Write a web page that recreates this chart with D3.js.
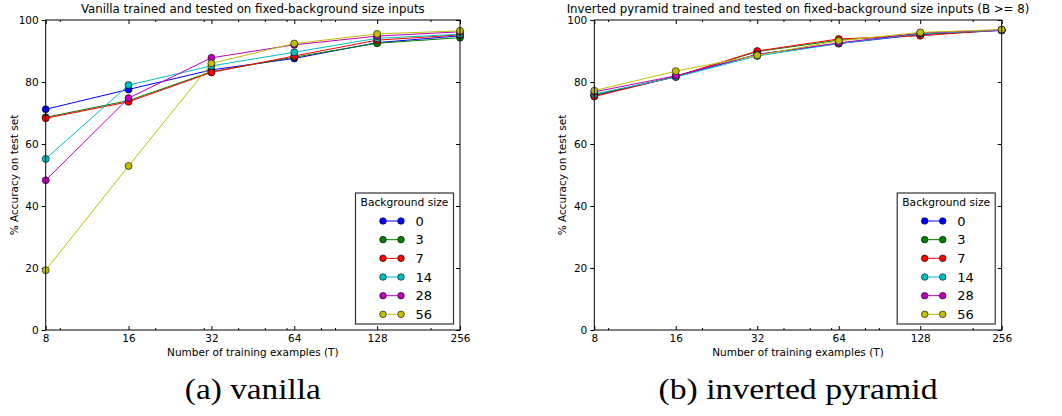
<!DOCTYPE html>
<html>
<head>
<meta charset="utf-8">
<title>Background size accuracy</title>
<script src="https://d3js.org/d3.v7.min.js"></script>
<style>
  body { margin: 0; background: #fff; }
  svg { display: block; font-family: "DejaVu Sans", sans-serif; }
  .tick text { font-family: "DejaVu Sans", sans-serif; font-size: 10.5px; fill: #000; }
  .tick line { stroke: #000; stroke-width: 1; }
  .caption { font-family: "Liberation Serif", serif; fill: #000; }
</style>
</head>
<body>
<svg id="fig" width="1062" height="416"></svg>
<script>
// training set sizes (x) and tick values
const examples = [8, 16, 32, 64, 128, 256];
const minorTicks = [9, 20, 30, 40, 50, 60, 80, 90, 200];
const yTicks = [0, 20, 40, 60, 80, 100];
const bgSizes = ["0", "3", "7", "14", "28", "56"];
const colors = ["#0000ff", "#008000", "#ff0000", "#00bfbf", "#bf00bf", "#bfbf00"];

// (a) vanilla, one array per background size
const vanilla0  = [71.2, 77.6, 83.9, 87.6, 92.7, 94.9];
const vanilla3  = [68.6, 74.0, 83.3, 88.0, 92.5, 94.3];
const vanilla7  = [68.3, 73.6, 83.1, 88.4, 93.5, 95.2];
const vanilla14 = [55.2, 79.0, 85.2, 89.6, 94.1, 95.4];
const vanilla28 = [48.3, 74.8, 87.8, 92.0, 94.8, 96.2];
const vanilla56 = [19.3, 52.9, 86.0, 92.4, 95.5, 96.5];

// (b) inverted pyramid
const pyramid0  = [75.6, 81.7, 88.9, 92.4, 95.3, 96.6];
const pyramid3  = [75.8, 81.8, 89.8, 93.5, 95.4, 96.8];
const pyramid7  = [75.3, 81.8, 90.0, 93.9, 94.9, 96.8];
const pyramid14 = [76.1, 81.6, 88.4, 92.4, 95.6, 96.7];
const pyramid28 = [76.8, 82.0, 88.9, 92.6, 95.8, 96.8];
const pyramid56 = [77.2, 83.5, 88.6, 93.3, 96.0, 96.9];

const svg = d3.select("#fig");

const panels = [
  {
    left: 45.7, right: 460,
    title: "Vanilla trained and tested on fixed-background size inputs",
    caption: "(a) vanilla", capWidth: 136,
    series: [vanilla0, vanilla3, vanilla7, vanilla14, vanilla28, vanilla56]
  },
  {
    left: 594.3, right: 1001.7,
    title: "Inverted pyramid trained and tested on fixed-background size inputs (B >= 8)",
    caption: "(b) inverted pyramid", capWidth: 279,
    series: [pyramid0, pyramid3, pyramid7, pyramid14, pyramid28, pyramid56]
  }
];

const plotTop = 20, plotBottom = 330;

panels.forEach(p => drawPanel(p));

function drawPanel(p) {
  const x = d3.scaleLog().base(2).domain([8, 256]).range([p.left, p.right]);
  const y = d3.scaleLinear().domain([0, 100]).range([plotBottom, plotTop]);
  const g = svg.append("g");
  const cx = (p.left + p.right) / 2;

  // bottom axis (ticks point inward)
  g.append("g")
    .attr("transform", `translate(0,${plotBottom})`)
    .call(d3.axisBottom(x).tickValues(examples).tickFormat(d3.format("d")).tickSize(-4).tickPadding(5))
    .call(a => a.select(".domain").remove());
  g.append("g")
    .attr("transform", `translate(0,${plotBottom})`)
    .call(d3.axisBottom(x).tickValues(minorTicks).tickFormat("").tickSize(-2))
    .call(a => a.select(".domain").remove());
  // top axis mirror
  g.append("g")
    .attr("transform", `translate(0,${plotTop})`)
    .call(d3.axisTop(x).tickValues(examples).tickFormat("").tickSize(-4))
    .call(a => a.select(".domain").remove());
  g.append("g")
    .attr("transform", `translate(0,${plotTop})`)
    .call(d3.axisTop(x).tickValues(minorTicks).tickFormat("").tickSize(-2))
    .call(a => a.select(".domain").remove());
  // left and right y axes
  g.append("g")
    .attr("transform", `translate(${p.left},0)`)
    .call(d3.axisLeft(y).tickValues(yTicks).tickSize(4).tickPadding(3))
    .call(a => a.select(".domain").remove());
  g.append("g")
    .attr("transform", `translate(${p.right},0)`)
    .call(d3.axisRight(y).tickValues(yTicks).tickFormat("").tickSize(-4))
    .call(a => a.select(".domain").remove());

  // lines and markers, drawn in series order
  const line = d3.line().x((d, i) => x(examples[i])).y(d => y(d));
  p.series.forEach((vals, k) => {
    g.append("path")
      .datum(vals)
      .attr("fill", "none")
      .attr("stroke", colors[k])
      .attr("stroke-width", 1)
      .attr("d", line);
    g.selectAll(null)
      .data(vals)
      .enter()
      .append("circle")
      .attr("cx", (d, i) => x(examples[i]))
      .attr("cy", d => y(d))
      .attr("r", 3.5)
      .attr("fill", colors[k])
      .attr("stroke", "#000")
      .attr("stroke-width", 0.6);
  });

  // frame
  g.append("rect")
    .attr("x", p.left).attr("y", plotTop)
    .attr("width", p.right - p.left).attr("height", plotBottom - plotTop)
    .attr("fill", "none").attr("stroke", "#000").attr("stroke-width", 1);

  // title and axis labels
  g.append("text")
    .attr("x", cx).attr("y", 12.5)
    .attr("text-anchor", "middle")
    .attr("font-size", 11.8)
    .text(p.title);
  g.append("text")
    .attr("x", cx).attr("y", 356)
    .attr("text-anchor", "middle")
    .attr("font-size", 10.5)
    .text("Number of training examples (T)");
  g.append("text")
    .attr("transform", `translate(${p.left - 28},${(plotTop + plotBottom) / 2}) rotate(-90)`)
    .attr("text-anchor", "middle")
    .attr("font-size", 10.5)
    .text("% Accuracy on test set");

  // legend
  const lw = 98, lx = p.right - 6.5 - lw, ly = 193;
  const lg = g.append("g").attr("transform", `translate(${lx},${ly})`);
  lg.append("rect")
    .attr("width", lw).attr("height", 131)
    .attr("fill", "#fff").attr("stroke", "#333").attr("stroke-width", 1.2);
  lg.append("text")
    .attr("x", lw / 2).attr("y", 13)
    .attr("text-anchor", "middle")
    .attr("font-size", 10.7)
    .text("Background size");
  bgSizes.forEach((s, k) => {
    const yy = 28 + k * 18.67;
    lg.append("line")
      .attr("x1", 27.5).attr("x2", 45.5).attr("y1", yy).attr("y2", yy)
      .attr("stroke", colors[k]).attr("stroke-width", 1);
    [27.5, 45.5].forEach(mx => {
      lg.append("circle")
        .attr("cx", mx).attr("cy", yy).attr("r", 3.3)
        .attr("fill", colors[k]).attr("stroke", "#000").attr("stroke-width", 0.6);
    });
    lg.append("text")
      .attr("x", 60).attr("y", yy + 4.7)
      .attr("font-size", 13)
      .text(s);
  });

  // subfigure caption
  svg.append("text")
    .attr("class", "caption")
    .attr("x", cx).attr("y", 399)
    .attr("text-anchor", "middle")
    .attr("font-size", 30)
    .attr("textLength", p.capWidth)
    .attr("lengthAdjust", "spacingAndGlyphs")
    .text(p.caption);
}
</script>
</body>
</html>
